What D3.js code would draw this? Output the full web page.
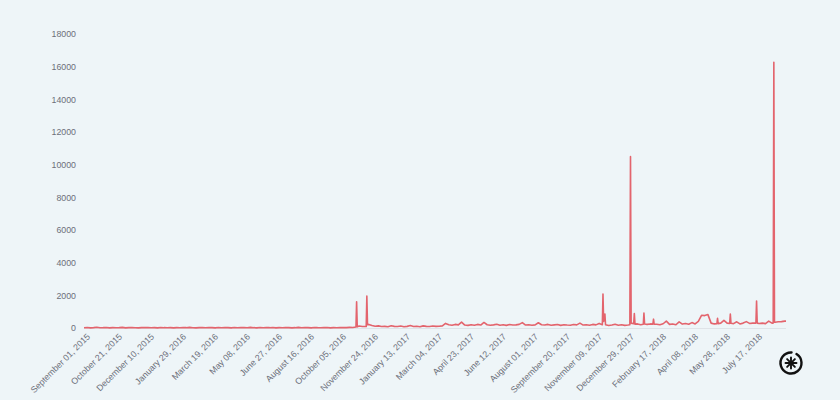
<!DOCTYPE html>
<html>
<head>
<meta charset="utf-8">
<script src="https://cdn.jsdelivr.net/npm/d3@7"></script>
<style>
  html, body { margin: 0; padding: 0; background: #eef5f8; }
  svg { display: block; }
  text { font-family: "Liberation Sans", Arial, Helvetica, sans-serif; }
</style>
</head>
<body>
<svg id="chart" width="840" height="400"></svg>
<script>
// ---------- DATA ----------
const startDate = "2015-09-01";
const endDate = "2018-09-02";
const stepDays = 5; // baseline sampled every 5 days from startDate

const baseValues = [
  // Sep 2015 - Oct 2016
  20,35,10,25,45,15,20,30,10,20, 15,25,40,10,20,30,15,10,25,20,
  30,15,20,10,35,20,15,25,10,20, 15,30,20,40,15,10,25,20,15,30,
  20,10,35,15,25,20,10,30,15,20, 25,15,40,20,10,30,15,25,20,35,
  10,20,15,30,25,10,20,40,15,25, 20,10,30,20,15,25,35,10,20,15,
  30,20,25,40,30,
  // Oct 2016 - Apr 2017
  60,120,90,100,220,150,110,130,90,100,80,140,100,90,120,80,100,150,90,110,80,130,100,90,120,100,110,130,
  // Apr 2017 - Nov 2017
  280,200,170,220,190,360,180,160,200,170,220,180,340,200,170,190,230,170,200,160,
  210,180,190,220,330,180,200,170,190,320,200,180,220,170,190,210,160,200,180,170,
  210,190,300,180,200,170,220,190,280,
  // Nov 2017 - Dec 2017
  200,200,150,180,230,170,200,160,180,
  // Jan 2018 - Sep 2018
  250,230,250,200,260,220,250,240,230,200,260,420,220,250,200,380,240,280,230,330,
  250,400,780,760,820,300,250,260,300,470,300,270,270,380,250,300,390,280,300,320,
  280,300,270,420,300,350,380,390,420
];

const peaks = [
  ["2016-10-31", 1600], ["2016-11-01", 70],
  ["2016-11-15", 90], ["2016-11-16", 1950], ["2016-11-17", 200],
  ["2017-11-19", 200], ["2017-11-20", 2080], ["2017-11-21", 400], ["2017-11-23", 860], ["2017-11-24", 200],
  ["2018-01-01", 200], ["2018-01-02", 10490], ["2018-01-03", 300],
  ["2018-01-07", 260], ["2018-01-08", 880], ["2018-01-09", 240],
  ["2018-01-22", 230], ["2018-01-23", 920], ["2018-01-24", 250],
  ["2018-02-06", 240], ["2018-02-07", 540], ["2018-02-08", 230],
  ["2018-05-17", 260], ["2018-05-18", 590], ["2018-05-19", 270],
  ["2018-06-06", 280], ["2018-06-07", 860], ["2018-06-08", 290],
  ["2018-07-17", 300], ["2018-07-18", 1650], ["2018-07-19", 300],
  ["2018-08-13", 300], ["2018-08-14", 16270], ["2018-08-15", 350],
  ["2018-09-02", 420]
];

const yTicks = [0, 2000, 4000, 6000, 8000, 10000, 12000, 14000, 16000, 18000];
const xTickStepDays = 50;
const xTickCount = 22;

// ---------- BUILD ----------
const parse = d3.utcParse("%Y-%m-%d");
const t0 = parse(startDate);
const merged = new Map();
baseValues.forEach((v, i) => {
  const d = d3.utcDay.offset(t0, i * stepDays);
  merged.set(+d, { date: d, value: v });
});
peaks.forEach(([ds, v]) => {
  const d = parse(ds);
  merged.set(+d, { date: d, value: v });
});
const data = Array.from(merged.values()).sort((a, b) => a.date - b.date);

const xTickValues = d3.range(xTickCount).map(k => d3.utcDay.offset(t0, k * xTickStepDays));

const svg = d3.select("#chart");
const margin = { left: 84, right: 54, top: 34, bottom: 72 };
const W = 840, H = 400;

const x = d3.scaleUtc()
  .domain([t0, parse(endDate)])
  .range([margin.left, W - margin.right]);
const y = d3.scaleLinear()
  .domain([0, 18000])
  .range([H - margin.bottom, margin.top]);

// zero line
svg.append("line")
  .attr("x1", x.range()[0]).attr("x2", x.range()[1])
  .attr("y1", y(0) + 0.5).attr("y2", y(0) + 0.5)
  .attr("stroke", "#dfe3e8").attr("stroke-width", 1);

const textColor = "#6c6f7a";

// y axis
const yAxis = d3.axisLeft(y).tickValues(yTicks).tickSize(0).tickPadding(0).tickFormat(d3.format("d"));
const gy = svg.append("g").attr("transform", `translate(${margin.left - 8},0)`).call(yAxis);
gy.select(".domain").remove();
gy.selectAll("text")
  .attr("fill", textColor).attr("font-size", "8.8px")
  .attr("font-family", "'Liberation Sans', Arial, sans-serif");

// x axis
const xAxis = d3.axisBottom(x).tickValues(xTickValues).tickSize(0).tickPadding(0)
  .tickFormat(d3.utcFormat("%B %d, %Y"));
const gx = svg.append("g").attr("transform", `translate(0,${y(0) + 7})`).call(xAxis);
gx.select(".domain").remove();
gx.selectAll("text")
  .attr("fill", textColor).attr("font-size", "8.8px")
  .attr("font-family", "'Liberation Sans', Arial, sans-serif")
  .attr("text-anchor", "end")
  .attr("dy", "0.35em")
  .attr("transform", "translate(4,0) rotate(-45)");

// line
const line = d3.line().x(d => x(d.date)).y(d => y(d.value));
svg.append("path")
  .datum(data)
  .attr("fill", "none")
  .attr("stroke", "#e3646d")
  .attr("stroke-width", 1.6)
  .attr("stroke-linejoin", "round")
  .attr("d", line);

// logo
const logo = svg.append("g").attr("transform", "translate(791,363)");
const p = d3.path();
const r = 10.5, a0 = -Math.PI / 2 + 0.55, a1 = a0 + Math.PI * 2 - 0.5;
p.arc(0, 0, r, a0, a1);
logo.append("path")
  .attr("d", p.toString())
  .attr("fill", "none").attr("stroke", "#111").attr("stroke-width", 2.4).attr("stroke-linecap", "round");
[0, 45, 90, 135].forEach(a => {
  logo.append("line")
    .attr("x1", -5.5).attr("x2", 5.5).attr("y1", 0).attr("y2", 0)
    .attr("transform", `rotate(${a})`)
    .attr("stroke", "#111").attr("stroke-width", 1.9).attr("stroke-linecap", "round");
});
</script>
</body>
</html>
